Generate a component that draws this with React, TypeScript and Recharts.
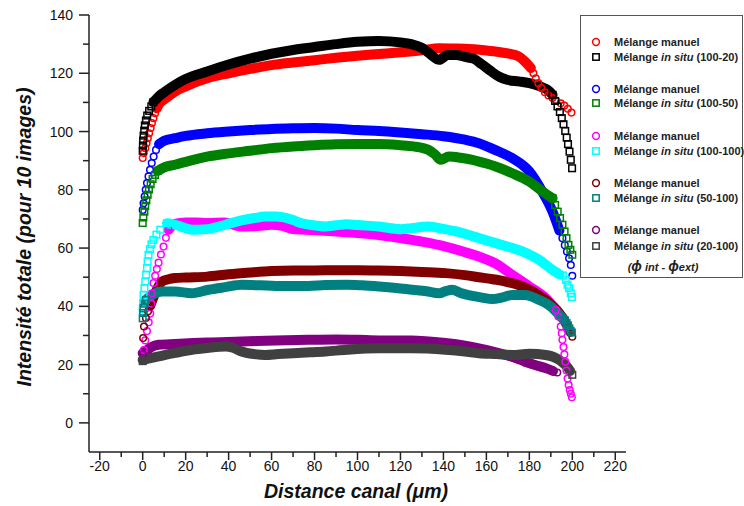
import React from "react";
import { ComposedChart, Line, Scatter, XAxis, YAxis } from "recharts";

// Profils d'intensité le long du canal : manuel (cercles) vs in situ (carrés).
// Chaque série : points isolés au début, bande dense au milieu, points isolés à la fin.

type Pt = [number, number];

const redStart: Pt[] = [[0, 90.9], [0.5, 92.6], [1.2, 94.3], [1.8, 96], [2.4, 97.7], [3.0, 99.4], [3.7, 101.2], [4.3, 102.9], [5.0, 104.6], [5.8, 106.3], [6.6, 108]];
const redBody: Pt[] = [[6.6, 108], [7.5, 109.3], [10, 111], [15, 113.7], [20, 115.5], [30, 118.3], [40, 120], [50, 121.5], [60, 122.8], [70, 123.7], [80, 124.5], [90, 125.3], [100, 126], [110, 126.6], [120, 127.2], [130, 127.9], [138, 128.6], [145, 128.5], [150, 128.4], [160, 127.8], [165, 127.4], [170, 126.8], [175, 125.8], [178, 124], [180.7, 121.8]];
const redEnd: Pt[] = [[180.7, 121.8], [181.9, 120], [183, 118.3], [184.2, 116.6], [185.6, 114.9], [187.2, 113.5], [188.9, 112.4], [190.8, 111.5], [192.6, 110.5], [194.6, 109.7], [196.3, 108.9], [197.9, 107.8], [199.6, 106.5]];

const blackStart: Pt[] = [[0, 93.4], [0.1, 95.2], [0.2, 96.9], [0.4, 98.6], [0.7, 100.3], [1.0, 102.1], [1.5, 103.8], [2.1, 105.5], [3.0, 107.1], [4.0, 108.6], [5.0, 110.1]];
const blackBody: Pt[] = [[5, 110.1], [7.4, 112], [10, 113.5], [15, 116], [20, 118], [30, 120.6], [40, 123], [50, 125], [60, 126.7], [70, 128], [80, 129], [90, 130], [100, 130.8], [110, 131.1], [120, 130.6], [125, 130], [130, 128.7], [134, 126.5], [138, 124.6], [142, 126.3], [146, 126.3], [150, 125.6], [154, 125], [158, 123], [162, 120.8], [166, 118.8], [170, 117.7], [175, 117.2], [180, 116.6], [185, 115.5], [189, 114], [190.8, 112.6]];
const blackEnd: Pt[] = [[190.8, 112.6], [192, 110.5], [193.1, 108.6], [194.2, 106.7], [195.1, 104.6], [195.9, 102.5], [196.7, 100.2], [197.4, 97.9], [198, 95.7], [198.7, 93.1], [199.3, 90.3], [199.9, 87.4]];

const blueStart: Pt[] = [[0, 73.1], [0.4, 75.4], [0.9, 77.7], [1.4, 80], [2, 82.3], [2.7, 84.6], [3.4, 86.9], [4.2, 89.2], [5.1, 91.4], [6.2, 93.7], [7.6, 95.7]];
const blueBody: Pt[] = [[7.6, 95.7], [10, 96.8], [15, 97.7], [20, 98.5], [30, 99.4], [40, 100], [50, 100.5], [60, 100.9], [70, 101.1], [80, 101.2], [90, 101], [100, 100.5], [110, 100.2], [120, 99.7], [130, 99.1], [140, 98.4], [150, 97.2], [156.5, 96], [164, 93.7], [172, 90.9], [180, 86.3], [186, 79.4], [190.8, 72.5], [194, 66]];
const blueEnd: Pt[] = [[195.4, 63.4], [196.5, 61], [197.5, 58.8], [198.5, 56.5], [199.3, 54.2], [200, 50.5]];

const greenStart: Pt[] = [[0, 68.6], [0.3, 70.5], [0.8, 72.5], [1.2, 74.5], [1.7, 76.4], [2.3, 78.3], [2.9, 80.1], [3.7, 81.9], [4.6, 83.7], [5.7, 85.1], [7, 86.5]];
const greenBody: Pt[] = [[7, 86.5], [10, 87.7], [15, 88.6], [20, 89.6], [30, 91.4], [40, 92.5], [50, 93.4], [60, 94.3], [70, 94.9], [80, 95.3], [90, 95.6], [100, 95.7], [110, 95.7], [120, 95.3], [126, 94.9], [133, 93.7], [136, 92.2], [138.7, 90.3], [142.6, 91.4], [148, 91], [153.5, 90.3], [160, 89], [164.3, 88], [172, 85.7], [180, 82.8], [186, 79.5], [190.8, 77.1]];
const greenEnd: Pt[] = [[190.8, 77.1], [192, 74.8], [193.2, 72.5], [194.3, 70.3], [195.4, 68], [196.4, 65.7], [197.3, 63.4], [198.2, 61.1], [199.1, 59.4], [200, 57.7]];

const magentaStart: Pt[] = [[0.5, 25], [1.2, 28.3], [2, 31.5], [2.8, 34.5], [3.5, 37.5], [3.9, 41], [4.3, 44.5], [5, 48], [5.8, 50.5], [6.6, 52.8], [7.4, 55], [8.5, 57.8], [9.7, 60.5], [10.8, 63.5], [12, 66.3]];
const magentaBody: Pt[] = [[12, 66.3], [15, 68.3], [20, 68.8], [25, 68.8], [30, 68.6], [38, 68.8], [46, 67.4], [52, 67.5], [60, 68], [65, 67.6], [70, 66.5], [80, 66.2], [90, 65.7], [100, 65.2], [110, 64.5], [120, 63.4], [130, 62.2], [141, 60.5], [150, 58.6], [156.5, 57.1], [164, 54.8], [172, 50.8], [180, 46.8], [187.6, 42.8], [192.3, 38.8]];
const magentaEnd: Pt[] = [[192.3, 38.8], [193.5, 36.5], [194.6, 33.1], [195.1, 30.8], [195.4, 28.5], [195.9, 26], [196.3, 23.5], [196.8, 21], [197.3, 18], [197.8, 15.2], [198.3, 13], [198.8, 11.3], [199.3, 10], [199.8, 8.8]];

const cyanStart: Pt[] = [[0, 39], [0.2, 41.1], [0.4, 43.9], [0.8, 46.2], [1.2, 48.5], [1.6, 50.8], [2, 53.1], [2.3, 55.4], [2.7, 57.7], [3.4, 59.6], [4.1, 61.3], [5, 62.8], [6.4, 64.6], [8.2, 66.3], [11.3, 68.5]];
const cyanBody: Pt[] = [[11.3, 68.5], [15, 68], [20, 66.8], [23, 66.3], [30, 66.5], [38.5, 68], [46, 69.5], [52, 70.3], [57, 70.8], [62, 70.8], [65, 70.6], [70, 69.6], [74, 68.5], [80, 67.8], [85, 67.4], [90, 67.8], [95, 68.2], [100, 67.9], [110, 67.4], [120, 66.5], [125, 66.8], [133, 67.4], [140, 66.6], [146, 65.7], [156.5, 63.4], [167, 61.1], [177, 58.8], [184.5, 56], [190.8, 52.5], [194, 51]];
const cyanEnd: Pt[] = [[195.6, 50.6], [197, 49.1], [197.8, 47.4], [198.5, 46.2], [199.3, 44.5], [199.8, 43.2]];

const darkRedStart: Pt[] = [[0.2, 29.1], [0.6, 33.1], [1.5, 36], [2.5, 38.3], [3.5, 40.2]];
const darkRedBody: Pt[] = [[3.5, 40.2], [5.8, 44.5], [8.9, 48.5], [12, 49.3], [15, 49.7], [20, 49.9], [30, 50.2], [40, 51], [50, 51.6], [60, 52.1], [70, 52.3], [80, 52.3], [90, 52.4], [100, 52.4], [110, 52.3], [120, 52.1], [130, 51.8], [141, 51.4], [150, 50.7], [156.5, 50], [163, 49.3], [169, 48.5], [175, 47.3], [180, 45.7], [184, 44], [187.6, 42.2], [191, 40], [193.9, 37.7], [196, 35.5], [197.8, 33.1], [199, 31.2]];
const darkRedEnd: Pt[] = [[200, 29.6]];

const tealStart: Pt[] = [[0, 35.9], [0.2, 37.7], [0.4, 39.4], [0.9, 40.9], [1.5, 42.2]];
const tealBody: Pt[] = [[1.5, 42.2], [4.3, 43.9], [8.9, 45.1], [15, 45.1], [22.9, 44.5], [30.7, 45.7], [38.5, 46.6], [46, 47.4], [55, 47.2], [62, 47], [70, 47], [77, 47], [85, 47.3], [95, 47.4], [102, 47.2], [110, 46.8], [118, 46.3], [125.5, 45.7], [132, 45.2], [138, 44.5], [141, 45.2], [144, 45.7], [148, 44.6], [153.5, 43.6], [158, 43], [162.8, 42.5], [167, 43], [172, 43.9], [178, 43.9], [184.5, 42.2], [188, 41], [190.8, 39.4], [193, 37.8], [195.4, 35.9]];
const tealEnd: Pt[] = [[196.5, 35.2], [197.3, 34.3], [198, 33.4], [198.6, 32.4], [199.2, 31.6], [199.8, 31]];

const purpleStart: Pt[] = [[0, 23.5]];
const purpleBody: Pt[] = [[0, 23.9], [2, 25], [4, 26], [7.4, 26.8], [15, 27.1], [30, 27.6], [46, 27.9], [62, 28.3], [77, 28.5], [90, 28.6], [100, 28.5], [110, 28.3], [125, 28.3], [141, 27.4], [150, 26.5], [156.5, 25.6], [163, 24.5], [169, 23.3], [174, 22.2], [178, 21], [183, 19.8], [187.6, 18.8], [191, 17.8]];
const purpleEnd: Pt[] = [[193, 17.3]];

const grayStart: Pt[] = [[0, 21.2]];
const grayBody: Pt[] = [[0, 21.6], [7.4, 22.8], [15, 24], [23, 25.1], [30, 25.7], [38.5, 26.2], [42, 25.8], [46, 24.5], [52, 23.6], [57, 23.3], [63, 23.6], [70, 23.9], [78, 24.2], [85, 24.5], [95, 25.1], [110, 25.6], [125, 25.6], [141, 25.1], [150, 24.5], [156.5, 23.9], [165, 23.6], [172, 23.3], [180, 23.7], [187.6, 23.3], [191, 22.7], [193.9, 21.6], [196, 20.4], [197.8, 19.1], [199, 17.8]];
const grayEnd: Pt[] = [[200, 16.5]];

const X_TICKS = [-20, -10, 0, 10, 20, 30, 40, 50, 60, 70, 80, 90, 100, 110, 120, 130, 140, 150, 160, 170, 180, 190, 200, 210, 220];
const Y_TICKS = [0, 10, 20, 30, 40, 50, 60, 70, 80, 90, 100, 110, 120, 130, 140];

const LEGEND_LABELS = ["(100-20)", "(100-50)", "(100-100)", "(50-100)", "(20-100)"];

const SERIES = [
  { key: "m1", color: "#ff0000", shape: "circle", start: redStart, body: redBody, end: redEnd },
  { key: "s1", color: "#000000", shape: "square", start: blackStart, body: blackBody, end: blackEnd },
  { key: "m2", color: "#0000ff", shape: "circle", start: blueStart, body: blueBody, end: blueEnd },
  { key: "s2", color: "#008000", shape: "square", start: greenStart, body: greenBody, end: greenEnd },
  { key: "m3", color: "#ff00ff", shape: "circle", start: magentaStart, body: magentaBody, end: magentaEnd },
  { key: "s3", color: "#00ffff", shape: "square", start: cyanStart, body: cyanBody, end: cyanEnd },
  { key: "m4", color: "#800000", shape: "circle", start: darkRedStart, body: darkRedBody, end: darkRedEnd },
  { key: "s4", color: "#008080", shape: "square", start: tealStart, body: tealBody, end: tealEnd },
  { key: "m5", color: "#800080", shape: "circle", start: purpleStart, body: purpleBody, end: purpleEnd },
  { key: "s5", color: "#404040", shape: "square", start: grayStart, body: grayBody, end: grayEnd },
];

const FONT = '"Liberation Sans", Arial, sans-serif';
const AXIS = "#222";
const TXT = "#111";

const rows = (pts: Pt[]) => pts.map(([x, y]) => ({ x, y }));

function marker(shape: string, color: string) {
  return (p: any) =>
    shape === "circle" ? (
      <circle cx={p.cx} cy={p.cy} r={3.3} fill="none" stroke={color} strokeWidth={1.5} />
    ) : (
      <rect x={p.cx - 3.3} y={p.cy - 3.3} width={6.6} height={6.6} fill="none" stroke={color} strokeWidth={1.5} />
    );
}

function XTick(props: any) {
  const { x, y, payload } = props;
  const major = payload.value % 20 === 0;
  return (
    <g>
      <line x1={x} x2={x} y1={y} y2={y + (major ? 8 : 5)} stroke={AXIS} strokeWidth={1.5} />
      {major && (
        <text x={x} y={y + 19} textAnchor="middle" fontSize={14} fill={TXT} fontFamily={FONT}>
          {payload.value}
        </text>
      )}
    </g>
  );
}

function YTick(props: any) {
  const { x, y, payload } = props;
  const major = payload.value % 20 === 0;
  return (
    <g>
      <line x1={x} x2={x - (major ? 10 : 6)} y1={y} y2={y} stroke={AXIS} strokeWidth={1.5} />
      {major && (
        <text x={x - 16} y={y + 5} textAnchor="end" fontSize={14} fill={TXT} fontFamily={FONT}>
          {payload.value}
        </text>
      )}
    </g>
  );
}

function LegendBox() {
  const rowsY = [42, 57, 89, 103, 136, 151, 183, 198, 230, 246];
  return (
    <g fontFamily={FONT} fontWeight="bold" fontSize={11} fill="#222">
      <rect x={580.5} y={15.5} width={162} height={262} fill="#fff" stroke="#555" strokeWidth={1} />
      {SERIES.map((s, i) => {
        const cy = rowsY[i];
        const circle = s.shape === "circle";
        return (
          <g key={s.key}>
            {circle ? (
              <circle cx={596} cy={cy} r={3.4} fill="none" stroke={s.color} strokeWidth={1.5} />
            ) : (
              <rect x={592.8} y={cy - 3.2} width={6.4} height={6.4} fill="none" stroke={s.color} strokeWidth={1.5} />
            )}
            <text x={614} y={cy + 4}>
              {circle ? (
                "Mélange manuel"
              ) : (
                <>
                  Mélange <tspan fontStyle="italic">in situ</tspan> {LEGEND_LABELS[(i - 1) / 2]}
                </>
              )}
            </text>
          </g>
        );
      })}
      <text x={663} y={271} textAnchor="middle" fontStyle="italic">
        (<tspan fontSize={14}>ϕ</tspan> int - <tspan fontSize={14}>ϕ</tspan>ext)
      </text>
    </g>
  );
}

export default function App() {
  return (
    <div style={{ position: "absolute", left: 0, top: 0, width: 744, height: 506, background: "#fff", fontFamily: FONT }}>
      <ComposedChart width={744} height={506} margin={{ top: 15, right: 118, bottom: 24, left: 29 }}>
        <XAxis
          type="number"
          dataKey="x"
          domain={[-25, 225]}
          ticks={X_TICKS}
          interval={0}
          height={30}
          allowDataOverflow
          tickSize={0}
          tickMargin={0}
          tickLine={false}
          axisLine={{ stroke: AXIS, strokeWidth: 1.5 }}
          tick={<XTick />}
        />
        <YAxis
          type="number"
          dataKey="y"
          domain={[-10, 140]}
          ticks={Y_TICKS}
          interval={0}
          width={60}
          allowDataOverflow
          tickSize={0}
          tickMargin={0}
          tickLine={false}
          axisLine={{ stroke: AXIS, strokeWidth: 1.5 }}
          tick={<YTick />}
        />
        {SERIES.map((s) => (
          <Line
            key={"l" + s.key}
            data={rows(s.body)}
            dataKey="y"
            type="monotone"
            stroke={s.color}
            strokeWidth={10}
            strokeLinecap="round"
            strokeLinejoin="round"
            dot={false}
            activeDot={false}
            legendType="none"
            isAnimationActive={false}
          />
        ))}
        {SERIES.map((s) => (
          <Scatter
            key={"p" + s.key}
            data={rows([...s.start, ...s.end])}
            dataKey="y"
            shape={marker(s.shape, s.color)}
            legendType="none"
            isAnimationActive={false}
          />
        ))}
      </ComposedChart>
      <svg width={744} height={506} style={{ position: "absolute", left: 0, top: 0, pointerEvents: "none" }}>
        <text
          transform="translate(31,237) rotate(-90)"
          textAnchor="middle"
          fontSize={19.5}
          fontWeight="bold"
          fontStyle="italic"
          fontFamily={FONT}
          fill={TXT}
        >
          Intensité totale (pour 10 images)
        </text>
        <text x={356} y={498} textAnchor="middle" fontSize={19.5} fontWeight="bold" fontStyle="italic" fontFamily={FONT} fill={TXT}>
          Distance canal (μm)
        </text>
        <LegendBox />
      </svg>
    </div>
  );
}
